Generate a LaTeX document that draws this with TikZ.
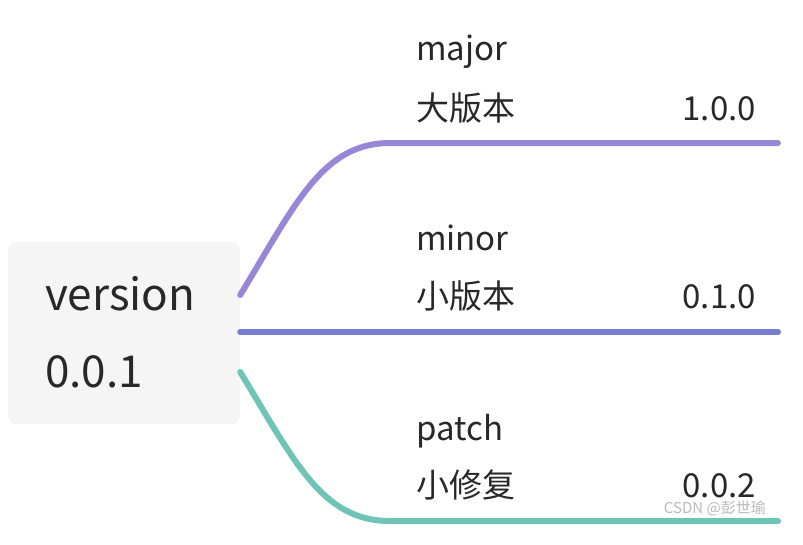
\documentclass[tikz,border=0pt]{standalone}
\usepackage{fontspec}
\setmainfont{Noto Sans CJK SC}
\usetikzlibrary{positioning}
\definecolor{majorcol}{RGB}{152,134,214}
\definecolor{minorcol}{RGB}{118,124,206}
\definecolor{patchcol}{RGB}{110,196,182}
\definecolor{rootfill}{RGB}{245,245,245}
\definecolor{inkcol}{RGB}{40,40,40}

\begin{document}
\begin{tikzpicture}[
    x=1pt, y=-1pt,
    rootbox/.style={rectangle, rounded corners=8pt, fill=rootfill, minimum width=232pt, minimum height=182pt, inner sep=0pt},
    roottxt/.style={anchor=base west, inner sep=0pt, text=inkcol, font=\fontsize{44}{48}\selectfont},
    leaf/.style={anchor=base west, inner sep=0pt, text=inkcol, font=\fontsize{33}{38}\selectfont},
    leafver/.style={anchor=base east, inner sep=0pt, text=inkcol, font=\fontsize{33}{38}\selectfont},
    branch/.style={line width=6pt, line cap=round},
  ]
    \useasboundingbox (0,0) rectangle (803,544);
    \node[rootbox] (root) at (124,333) {};
    \node[roottxt] (rname) at (45,310) {version};
    \node[roottxt] (rver) at (45,387) {0.0.1};

    % major
    \node[leaf] (majname) at (416,60) {major};
    \node[leaf] (majcn) at (416,120) {大版本};
    \node[leafver] (majver) at (756,120) {1.0.0};
    \coordinate (majend) at (778,143);
    \draw[branch, majorcol] ([yshift=38pt]root.east) .. controls (295,205) and (322,143) .. (390,143) -- (majend);

    % minor
    \node[leaf] (minname) at (416,250) {minor};
    \node[leaf] (mincn) at (416,308) {小版本};
    \node[leafver] (minver) at (756,308) {0.1.0};
    \coordinate (minend) at (778,332);
    \draw[branch, minorcol] (root.east |- minend) -- (minend);

    % patch
    \node[leaf] (patname) at (416,440) {patch};
    \node[leaf] (patcn) at (416,497) {小修复};
    \node[leafver] (patver) at (756,497) {0.0.2};
    \coordinate (patend) at (778,521);
    \draw[branch, patchcol] ([yshift=-39pt]root.east) .. controls (295,462) and (322,521) .. (390,521) -- (patend);

    \node[anchor=base east, inner sep=0pt, text=gray!55, font=\fontsize{15}{17}\selectfont] (mark) at (766,513) {CSDN @彭世瑜};
  \end{tikzpicture}
\end{document}
